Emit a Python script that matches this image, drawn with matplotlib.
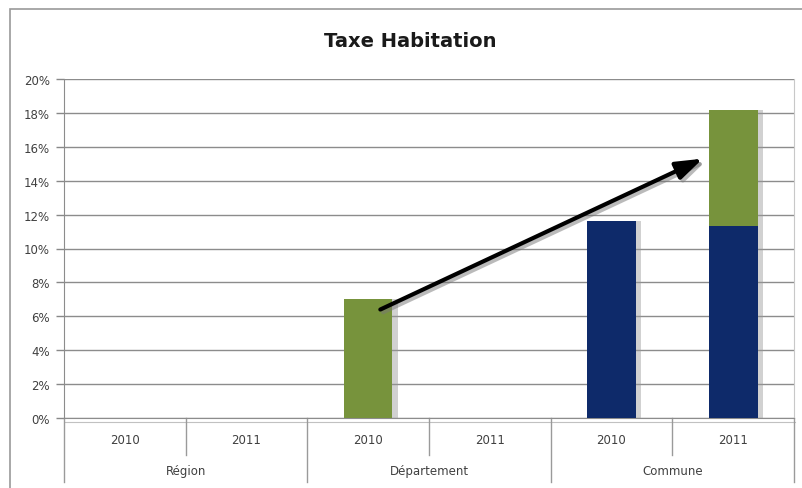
import matplotlib.pyplot as plt
import matplotlib.patheffects as pe
from matplotlib.patches import Rectangle
from matplotlib.ticker import FuncFormatter

groups = ["Région", "Département", "Commune"]
years = ["2010", "2011"]
navy_vals = [0, 0, 0, 0, 11.6, 11.3]
green_vals = [0, 0, 7.0, 0, 0, 6.9]
arrow_start = (2.1, 6.4)
arrow_end = (4.75, 15.3)

navy = "#0E2A6A"
green = "#77933C"
txt = "#404040"

W, H = 803, 489
fig = plt.figure(figsize=(W / 100, H / 100), dpi=100)
fig.patch.set_facecolor("white")

# outer chart frame
fig.add_artist(Rectangle((10 / W, -0.01), 2, (H - 10) / H + 0.01, transform=fig.transFigure,
                         fill=False, edgecolor="#9a9a9a", lw=1.2))

ax = fig.add_axes([64 / W, (H - 419) / H, (794 - 64) / W, (419 - 80) / H])
n = len(navy_vals)
x = list(range(n))
shadow = [pe.SimplePatchShadow(offset=(4, 0), shadow_rgbFace="#999999", alpha=0.45), pe.Normal()]
b1 = ax.bar(x, navy_vals, width=0.4, color=navy, zorder=3)
b2 = ax.bar(x, green_vals, width=0.4, bottom=navy_vals, color=green, zorder=3)
for b in list(b1) + list(b2):
    if b.get_height() > 0:
        b.set_path_effects(shadow)

ax.set_xlim(-0.5, n - 0.5)
ax.set_ylim(0, 20)
ax.set_yticks(range(0, 21, 2))
ax.yaxis.set_major_formatter(FuncFormatter(lambda v, p: f"{int(v)}%"))
ax.tick_params(axis="y", length=6, width=1, color="#888888", labelsize=8.5, labelcolor=txt, pad=4)
ax.grid(axis="y", color="#8c8c8c", lw=1, zorder=0)
ax.set_xticks([])
ax.spines["top"].set_visible(False)
ax.spines["right"].set_color("#c8c8c8")
ax.spines["left"].set_color("#8c8c8c")
ax.spines["bottom"].set_color("#8c8c8c")
ax.spines["bottom"].set_path_effects([pe.SimpleLineShadow(offset=(1, -3), shadow_color="#999999", alpha=0.6), pe.Normal()])

# multi-level category axis drawn below the plot
tr = ax.get_xaxis_transform()
for i in range(n):
    ax.text(i, -0.062, years[i % 2], transform=tr, ha="center", va="center", fontsize=8.5, color=txt)
for g, name in enumerate(groups):
    ax.text(2 * g + 0.5, -0.155, name, transform=tr, ha="center", va="center", fontsize=8.5, color=txt)
for i in range(n + 1):
    xb = i - 0.5
    low = -0.19 if i % 2 == 0 else -0.11
    ax.plot([xb, xb], [0, low], transform=tr, color="#9a9a9a", lw=1, clip_on=False)

# trend arrow
ax.annotate("", xy=arrow_end, xytext=arrow_start, zorder=5,
            arrowprops=dict(arrowstyle="-|>,head_length=1.6,head_width=0.55", color="black", lw=3,
                            shrinkA=0, shrinkB=0,
                            path_effects=[pe.SimpleLineShadow(offset=(2, -2), shadow_color="#777777", alpha=0.5), pe.Normal()]))

fig.text(410 / W, 1 - 42 / H, "Taxe Habitation", ha="center", va="center", fontsize=14,
         fontweight="bold", color="#1a1a1a")

fig.savefig("out.png", dpi=100)
